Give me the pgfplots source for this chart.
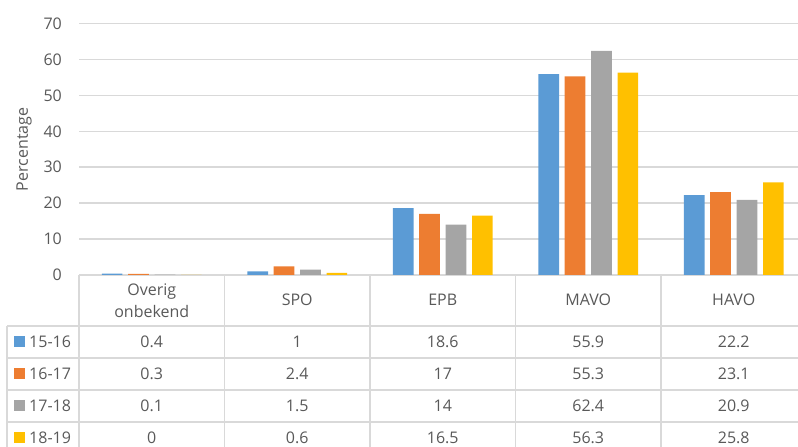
\documentclass[border=0pt]{standalone}
\usepackage{fontspec}
\setmainfont{Open Sans}
\usepackage{pgfplots}
\usepackage{pgfplotstable}
\pgfplotsset{compat=1.18}
\definecolor{c1}{HTML}{5B9BD5}
\definecolor{c2}{HTML}{ED7D31}
\definecolor{c3}{HTML}{A5A5A5}
\definecolor{c4}{HTML}{FFC000}
\definecolor{txtgray}{HTML}{595959}
\definecolor{gridgray}{HTML}{D9D9D9}

% percentages per school year, categories at 0.5, 1.5, ...
\pgfplotstableread{
x   s1516 s1617 s1718 s1819
0.5 0.4   0.3   0.1   0
1.5 1     2.4   1.5   0.6
2.5 18.6  17    14    16.5
3.5 55.9  55.3  62.4  56.3
4.5 22.2  23.1  20.9  25.8
}\datatable

\begin{document}
\begin{tikzpicture}[font=\fontsize{16}{21.7}\selectfont, text=txtgray]
\path[use as bounding box] (0pt,0pt) rectangle (798pt,447pt);
\begin{axis}[at={(79pt,172pt)}, anchor=south west,
  scale only axis, width=727.5pt, height=251.5pt,
  xmin=0, xmax=5, ymin=0, ymax=70, ytick={0,10,...,70}, xtick=\empty,
  axis line style={draw=none}, major tick length=0pt,
  ymajorgrids, grid style={draw=gridgray, line width=1.5pt},
  ybar=5.7pt, bar width=20.7pt,
  /pgf/number format/assume math mode=true,
  yticklabel style={font=\fontsize{16}{19}\selectfont, text=txtgray,
    inner sep=0pt, anchor=east, xshift=-17pt},
  ylabel={Percentage},
  every axis y label/.style={at={(axis description cs:-0.0756,0.5)},
    rotate=90, anchor=center, font=\fontsize{16}{18}\selectfont, text=txtgray},
  clip=false]
\addplot[fill=c1, draw=none] table[x=x, y=s1516] {\datatable};
\addplot[fill=c2, draw=none] table[x=x, y=s1617] {\datatable};
\addplot[fill=c3, draw=none] table[x=x, y=s1718] {\datatable};
\addplot[fill=c4, draw=none] table[x=x, y=s1819] {\datatable};
\end{axis}

% data table below the chart
\begin{scope}[draw=gridgray, line width=1.5pt]
\foreach \xx in {79,224.5,370,515.5,661}
  \draw (\xx pt,172pt) -- (\xx pt,-2pt);
\draw (7pt,121pt) -- (7pt,-2pt);
\foreach \yy in {121,89,57,25}
  \draw (7pt,\yy pt) -- (812pt,\yy pt);
\end{scope}

\node[align=center] at (151.75pt,146pt) {Overig\\onbekend};
\node at (297.25pt,147pt) {SPO};
\node at (442.75pt,147pt) {EPB};
\node at (588.25pt,147pt) {MAVO};
\node at (733.75pt,147pt) {HAVO};

\foreach \c/\lab/\col [count=\i from 0] in {s1516/15-16/c1, s1617/16-17/c2, s1718/17-18/c3, s1819/18-19/c4} {
  \pgfmathsetmacro\yc{105-32*\i}
  \fill[\col] (14pt,\yc pt-5.5pt) rectangle (25pt,\yc pt+5.5pt);
  \node[anchor=west, inner sep=0pt] at (29pt,\yc pt) {\lab};
  \foreach \r in {0,...,4} {
    \pgfmathsetmacro\xc{151.75+145.5*\r}
    \pgfplotstablegetelem{\r}{\c}\of\datatable
    \node at (\xc pt,\yc pt) {\pgfplotsretval};
  }
}
\end{tikzpicture}
\end{document}
